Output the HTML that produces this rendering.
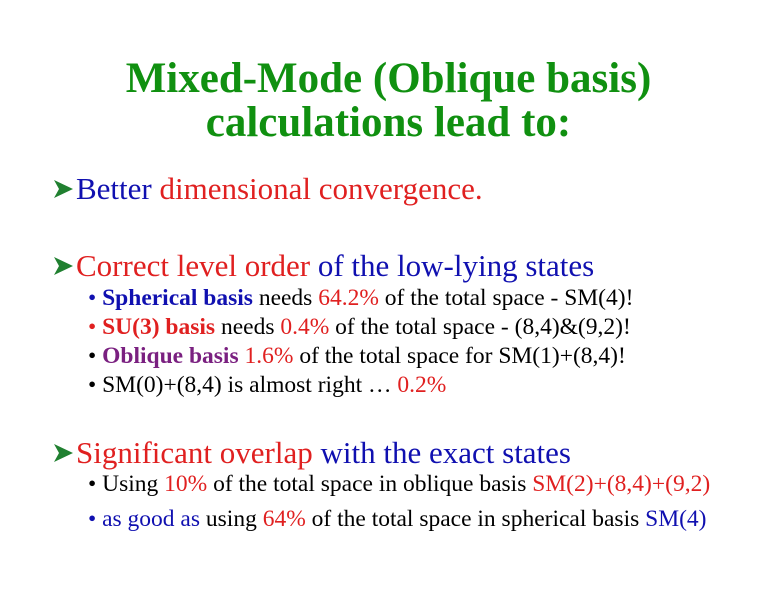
<!DOCTYPE html>
<html><head><meta charset="utf-8"><style>
html,body{margin:0;padding:0;background:#fff;}
body{width:777px;height:600px;position:relative;overflow:hidden;font-family:"Liberation Serif",serif;}
.t{position:absolute;left:0;width:777px;text-align:center;font-weight:bold;font-size:43px;line-height:1;color:#109010;}
.b{position:absolute;left:76px;font-size:31px;line-height:1;white-space:nowrap;}
.s{position:absolute;left:88px;font-size:23.5px;line-height:1;white-space:nowrap;color:#000;}
.r{color:#e02020}.bl{color:#1010b0}.p{color:#7a2080}
svg.a{position:absolute;left:54px;}
</style></head><body>
<div class="t" style="top:57px">Mixed-Mode (Oblique basis)</div>
<div class="t" style="top:101px">calculations lead to:</div>

<svg class="a" style="top:179px" width="20" height="20" viewBox="0 0 20 20"><path d="M0,1 L19,10 L0,19 L5,10 Z" fill="#208030"/></svg>
<div class="b" style="top:173px"><span class="bl">Better </span><span class="r">dimensional convergence.</span></div>

<svg class="a" style="top:256px" width="20" height="20" viewBox="0 0 20 20"><path d="M0,1 L19,10 L0,19 L5,10 Z" fill="#208030"/></svg>
<div class="b" style="top:250px"><span class="r">Correct level order </span><span class="bl">of the low-lying states</span></div>

<div class="s" style="top:287px"><span class="bl">• <b>Spherical basis</b></span> needs <span class="r">64.2%</span> of the total space - SM(4)!</div>
<div class="s" style="top:316px"><span class="r">• <b>SU(3) basis</b></span> needs <span class="r">0.4%</span> of the total space - (8,4)&amp;(9,2)!</div>
<div class="s" style="top:345px">• <b class="p">Oblique basis</b> <span class="r">1.6%</span> of the total space for SM(1)+(8,4)!</div>
<div class="s" style="top:374px">• SM(0)+(8,4) is almost right … <span class="r">0.2%</span></div>

<svg class="a" style="top:443px" width="20" height="20" viewBox="0 0 20 20"><path d="M0,1 L19,10 L0,19 L5,10 Z" fill="#208030"/></svg>
<div class="b" style="top:437px"><span class="r">Significant overlap </span><span class="bl">with the exact states</span></div>

<div class="s" style="top:473px">• Using <span class="r">10%</span> of the total space in oblique basis <span class="r">SM(2)+(8,4)+(9,2)</span></div>
<div class="s" style="top:508px"><span class="bl">• as good as</span> using <span class="r">64%</span> of the total space in spherical basis <span class="bl">SM(4)</span></div>
</body></html>
